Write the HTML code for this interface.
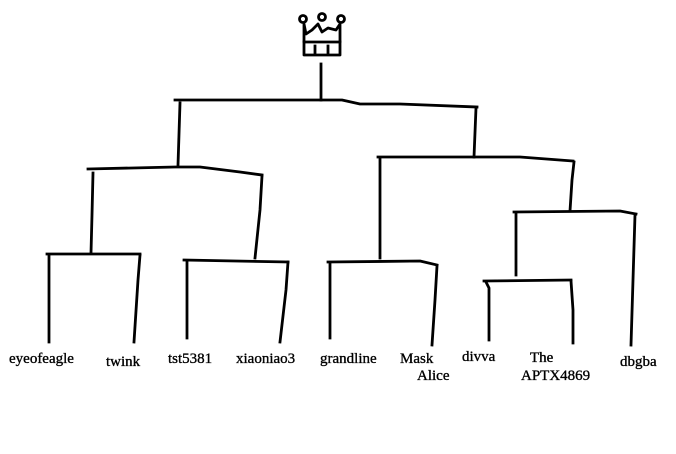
<!DOCTYPE html>
<html><head><style>
html,body{margin:0;padding:0;background:#fff;width:676px;height:454px;overflow:hidden}
svg{display:block}
text{font-family:"Liberation Serif",serif;font-size:15px;fill:#000;stroke:#000;stroke-width:0.35}
</style></head><body>
<svg width="676" height="454" viewBox="0 0 676 454">
<g fill="none" stroke="#000" stroke-width="2.8" stroke-linejoin="round" stroke-linecap="square">
<!-- crown -->
<path d="M304 24 L306 34 L312 30 L318 24 L322 32 L328 28 L336 30 L340 24 L340 42 L304 42 Z"/>
<circle cx="303" cy="19" r="3.5"/><circle cx="322" cy="17" r="3.5"/><circle cx="341" cy="19" r="3.5"/>
<path d="M304 42 L304 55 L340 55 L340 42"/>
<path d="M315 46 L315 54 M328 46 L328 54"/>
<!-- root -->
<path d="M321 64 L321 100"/>
<path d="M175 100 L342 100 L360 104 L400 104 L477 107"/>
<path d="M180 103 L178 165"/>
<path d="M476 108 L474 157"/>
<!-- left mid -->
<path d="M88 169 L175 167 L200 167 L240 172 L262 175"/>
<path d="M93 173 L92 215 L91 253"/>
<path d="M262 176 L260 210 L255 258"/>
<!-- left leaves -->
<path d="M47 254 L140 254"/>
<path d="M49 255 L49 342"/>
<path d="M140 255 L138 280 L134 342"/>
<path d="M184 260 L288 262"/>
<path d="M187 262 L187 338"/>
<path d="M288 262 L286 290 L280 342"/>
<!-- right mid -->
<path d="M378 157 L520 157 L573 161"/>
<path d="M380 158 L380 258"/>
<path d="M574 162 L572 180 L570 211"/>
<path d="M514 212 L620 211 L636 214"/>
<path d="M516 213 L516 275"/>
<path d="M635 215 L633 280 L631 345"/>
<!-- right leaves -->
<path d="M328 262 L420 261 L437 265"/>
<path d="M330 263 L330 338"/>
<path d="M437 266 L435 300 L432 345"/>
<path d="M484 281 L571 280"/>
<path d="M486 282 L489 288 L489 340"/>
<path d="M571 281 L573 310 L573 343"/>
</g>
<text x="9" y="363">eyeofeagle</text>
<text x="106" y="366">twink</text>
<text x="168" y="363">tst5381</text>
<text x="236" y="363">xiaoniao3</text>
<text x="320" y="363">grandline</text>
<text x="400" y="363">Mask</text>
<text x="417" y="380">Alice</text>
<text x="462" y="361">divva</text>
<text x="530" y="362">The</text>
<text x="521" y="380">APTX4869</text>
<text x="620" y="366">dbgba</text>
</svg>
</body></html>
